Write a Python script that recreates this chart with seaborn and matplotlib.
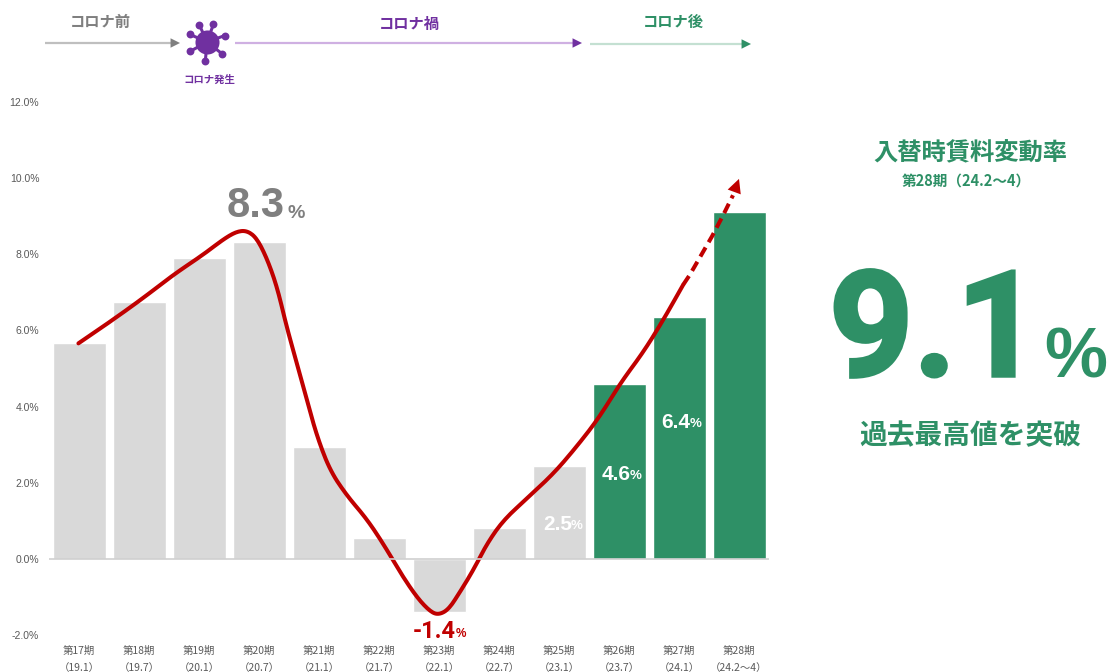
import numpy as np
import pandas as pd
import seaborn as sns
import matplotlib.pyplot as plt
import matplotlib.patheffects as pe

# Data
periods = ['第17期\n（19.1）', '第18期\n（19.7）', '第19期\n（20.1）', '第20期\n（20.7）',
           '第21期\n（21.1）', '第22期\n（21.7）', '第23期\n（22.1）', '第24期\n（22.7）',
           '第25期\n（23.1）', '第26期\n（23.7）', '第27期\n（24.1）', '第28期\n（24.2～4）']
rates = [5.67, 6.75, 7.9, 8.32, 2.95, 0.55, -1.4, 0.8, 2.45, 4.6, 6.35, 9.1]
phase = ['past'] * 9 + ['recent'] * 3
yticks = [-2, 0, 2, 4, 6, 8, 10, 12]

# Red trend line, hand drawn in the original
trend_x = [-0.01, 0.52, 1.07, 1.57, 2.07, 2.41, 2.63, 2.80, 2.96, 3.13, 3.30, 3.46,
           3.63, 3.80, 3.96, 4.18, 4.46, 4.79, 5.07, 5.35, 5.63, 5.85, 5.99, 6.16,
           6.35, 6.57, 6.80, 7.07, 7.46, 7.91, 8.29, 8.66, 9.02, 9.41, 9.74, 10.07]
trend_y = [5.66, 6.23, 6.85, 7.46, 7.99, 8.40, 8.60, 8.62, 8.43, 7.90, 7.15, 6.10,
           5.14, 4.17, 3.25, 2.33, 1.67, 1.06, 0.40, -0.35, -1.01, -1.38, -1.47, -1.33,
           -0.87, -0.30, 0.40, 1.01, 1.58, 2.24, 2.94, 3.69, 4.61, 5.44, 6.28, 7.20]
dash_x = [10.07, 10.18, 10.55, 10.74, 10.90]
dash_y = [7.20, 7.46, 8.47, 9.04, 9.55]
arrow_tip = (11.0, 9.98)

GREEN = '#2e9066'
GREY = '#7f7f7f'
PURPLE = '#7030a0'
RED = '#c00000'
JP = ['Noto Sans CJK JP', 'DejaVu Sans']
LATIN = 'Liberation Sans'
BIG = 'Roboto'

sns.set_style('white')
plt.rcParams['font.family'] = JP

W, H = 1117, 672
fig = plt.figure(figsize=(W / 100, H / 100), dpi=100)
ax = fig.add_axes([49 / W, 1 - 635 / H, 720 / W, 533 / H])


def rounded(x, y, passes=3):
    # corner cutting, the picture shows a smooth curve and not a polyline
    pts = np.column_stack([x, y])
    for _ in range(passes):
        q = 0.75 * pts[:-1] + 0.25 * pts[1:]
        r = 0.25 * pts[:-1] + 0.75 * pts[1:]
        mid = np.empty((2 * len(q), 2))
        mid[0::2] = q
        mid[1::2] = r
        pts = np.vstack([pts[0], mid, pts[-1]])
    return pts[:, 0], pts[:, 1]


dtf = pd.DataFrame({'period': periods, 'rate': rates, 'phase': phase})
sns.barplot(data=dtf, x='period', y='rate', hue='phase', dodge=False, saturation=1,
            palette={'past': '#d9d9d9', 'recent': GREEN}, width=53 / 60,
            legend=False, ax=ax)
ax.axhline(0, color='#cfcfcf', lw=1.2, zorder=3)

line_x, line_y = rounded(trend_x, trend_y)
sns.lineplot(x=line_x, y=line_y, sort=False, estimator=None, color=RED, lw=2.9, ax=ax)
sns.lineplot(x=dash_x, y=dash_y, sort=False, estimator=None, color=RED, lw=2.9,
             ax=ax, linestyle=(0, (2.6, 1.5)))
ax.annotate('', xy=arrow_tip, xytext=(dash_x[-1], dash_y[-1]),
            arrowprops=dict(arrowstyle='-|>', color=RED, lw=0, mutation_scale=25,
                            shrinkA=0, shrinkB=0))

ax.set_xlim(-0.5, 11.5)
ax.set_ylim(-2, 12)
ax.set(xlabel=None, ylabel=None)
ax.set_yticks(yticks)
ax.set_yticklabels([f'{t:.1f}%' for t in yticks], fontsize=7.5, color='#595959', family=LATIN)
ax.tick_params(axis='x', length=0, pad=8, labelsize=7.5, labelcolor='#595959')
ax.tick_params(axis='y', length=0, pad=7)
for label in ax.get_xticklabels():
    label.set_linespacing(1.9)
sns.despine(ax=ax, left=True, bottom=True)

# Overlay in pixel coordinates for the notes around the chart
over = fig.add_axes([0, 0, 1, 1], facecolor='none')
over.set_xlim(0, W)
over.set_ylim(H, 0)
over.axis('off')


def note(x, y, s, size, color, ha='center', va='center', family=JP, weight='bold'):
    return over.text(x, y, s, fontsize=size, color=color, ha=ha, va=va, family=family,
                     weight=weight)


def phase_arrow(x0, x1, y, line, head):
    over.plot([x0, x1 - 6], [y, y], color=line, lw=1.6, solid_capstyle='butt')
    over.annotate('', xy=(x1, y), xytext=(x1 - 10, y),
                  arrowprops=dict(arrowstyle='-|>', color=head, lw=0, mutation_scale=17,
                                  shrinkA=0, shrinkB=0))


phase_arrow(45, 180, 43, '#bfbfbf', GREY)
phase_arrow(235, 582, 43, '#cfb0e2', PURPLE)
phase_arrow(590, 751, 44, '#c4e0d2', GREEN)
note(100, 22, 'コロナ前', 11, GREY)
note(409, 24, 'コロナ禍', 11, PURPLE)
note(673, 22, 'コロナ後', 11, GREEN)
note(209, 80, 'コロナ発生', 7.5, PURPLE)

# Virus icon
for deg in [95, 38, -20, -70, -114, -156, 151]:
    a = np.deg2rad(deg)
    tip_x, tip_y = 207 + 19 * np.cos(a), 42 + 19 * np.sin(a)
    over.plot([207, tip_x], [42, tip_y], color=PURPLE, lw=2.2)
    over.scatter(tip_x, tip_y, s=32, color=PURPLE, lw=0)
over.scatter(207, 42, s=300, color=PURPLE, lw=0, zorder=3)

# Bar value labels
note(227, 206, '8.3', 30, GREY, ha='left', family=LATIN)
note(287, 213, '%', 14, GREY, ha='left', family=LATIN)
note(413, 632, '-1.4', 17, RED, ha='left', family=BIG)
note(456, 634, '%', 8.5, RED, ha='left', family=LATIN)
note(543, 524, '2.5', 15, 'white', ha='left', family=LATIN)
note(571, 526, '%', 9.5, 'white', ha='left', family=LATIN)
note(602, 474, '4.6', 15, 'white', ha='left', family=LATIN)
note(630, 476, '%', 9.5, 'white', ha='left', family=LATIN)
note(661, 422, '6.4', 15, 'white', ha='left', family=LATIN)
note(690, 424, '%', 9.5, 'white', ha='left', family=LATIN)

# Right hand call-out
note(970, 153, '入替時賃料変動率', 17.5, GREEN)
note(966, 181, '第28期（24.2～4）', 10.5, GREEN)
big = note(829, 376, '9.1', 106, GREEN, ha='left', va='baseline', family=BIG)
big.set_path_effects([pe.withStroke(linewidth=2.5, foreground=GREEN, joinstyle='miter')])
note(1044, 377, '%', 51, GREEN, ha='left', va='baseline', family=LATIN)
note(970, 436, '過去最高値を突破', 20, GREEN)

fig.savefig('out.png', dpi=100)
